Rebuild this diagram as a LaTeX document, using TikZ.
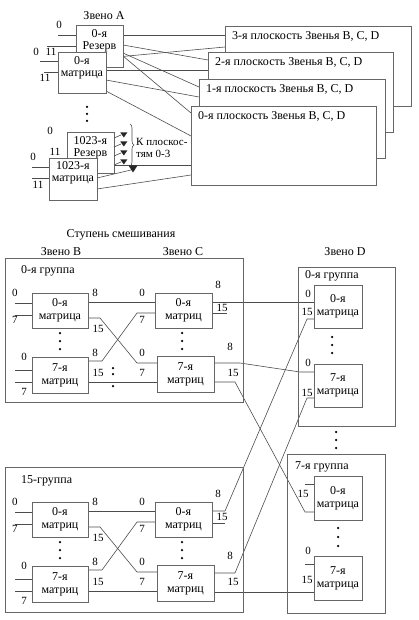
\documentclass[tikz,border=0pt]{standalone}
\usepackage{fontspec}
\setmainfont{Liberation Serif}
\usetikzlibrary{decorations.pathreplacing}
\pgfdeclarelayer{bg}
\pgfsetlayers{bg,main}
\newcounter{lblc}
\newcommand\mybox[7][]{\node[box,#1,minimum width={#4-#2},minimum height={#5-#3}] (#6) at ({(#2+#4)/2},{(#3+#5)/2}) {#7};}
\newcommand\lab[4][]{\stepcounter{lblc}\node[lab,#1] (lbl\arabic{lblc}) at (#2,#3) {#4};}
\newcommand\btx[3]{\stepcounter{lblc}\node[btxt] (bt\arabic{lblc}) at (#1,#2) {#3};}
\newcommand\dt[2]{\stepcounter{lblc}\node[dotn] (dt\arabic{lblc}) at (#1,#2) {};}
\begin{document}
\begin{tikzpicture}[x=1pt,y=-1pt,
 box/.style={draw=black!60,fill=white,line width=0.7pt,inner sep=0pt,outer sep=0pt,align=center,font=\fontsize{12}{13}\selectfont},
 btxt/.style={inner sep=0pt,align=center,font=\fontsize{12}{11.8}\selectfont},
 wire/.style={draw=black!70,line width=0.6pt},
 lab/.style={inner sep=0pt,font=\fontsize{11}{11}\selectfont},
 ttl/.style={inner sep=0pt,font=\fontsize{12}{12}\selectfont},
 dotn/.style={circle,fill=black,inner sep=0pt,minimum size=2.5pt},
 tri/.style={fill=black!85},
]
\useasboundingbox (0,0) rectangle (418,620);

% ---------------- Zveno A ----------------
\node[ttl] (tA) at (104,16) {Звено A};
\mybox{76}{25}{123}{67}{rA}{}
\btx{99.5}{41}{0-я\\Резерв}
\mybox{58}{52}{106}{93}{mA}{}
\btx{82}{68}{0-я\\матрица}
\mybox{67}{132}{114}{173}{rZ}{}
\btx{90.5}{148}{1023-я\\Резерв}
\mybox{49}{158}{97}{200}{mZ}{}
\btx{73}{173}{1023-я\\матрица}

\mybox{225}{26}{411}{106}{p3}{}
\node[ttl,anchor=west] (t3) at ([shift={(7,10)}]p3.north west) {3-я плоскость Звенья B, C, D};
\mybox{208}{52}{393}{132}{p2}{}
\node[ttl,anchor=west] (t2) at ([shift={(7,10)}]p2.north west) {2-я плоскость Звенья B, C, D};
\mybox{199}{79}{385}{158}{p1}{}
\node[ttl,anchor=west] (t1) at ([shift={(7,10)}]p1.north west) {1-я плоскость Звенья B, C, D};
\mybox{191}{106}{376}{185}{p0}{}
\node[ttl,anchor=west] (t0) at ([shift={(7,10)}]p0.north west) {0-я плоскость Звенья B, C, D};

\begin{pgfonlayer}{bg}
\draw[wire] (rA.east |- 0,35) -- (p3.west |- 0,35);
\draw[wire] (rA.east |- 0,45) -- (p2.west |- 0,60);
\draw[wire] (rA.east |- 0,53) -- (p1.west |- 0,87);
\draw[wire] (rA.east |- 0,56) -- (p0.west |- 0,113);
\draw[wire] (mA.east |- 0,58) -- (p3.west |- 0,47);
\draw[wire] (mA.east |- 0,70) -- (p2.west |- 0,70);
\draw[wire] (mA.east |- 0,80) -- (p1.west |- 0,97);
\draw[wire] (mA.east |- 0,91) -- (p0.west |- 0,136);
\draw[wire] (mZ.east |- 0,165) -- (p0.west |- 0,165);
\draw[wire] (mZ.east |- 0,189) -- (p0.west |- 0,175);
\draw[wire] (rA.west |- 0,35) -- ++(-18,0);
\draw[wire] (rA.west |- 0,46) -- ++(-29,0);
\draw[wire] (mA.west |- 0,61) -- ++(-18,0);
\draw[wire] (mA.west |- 0,72) -- ++(-14,0);
\draw[wire] (mZ.west |- 0,167) -- ++(-17,0);
\draw[wire] (mZ.west |- 0,178) -- ++(-17,0);
\end{pgfonlayer}

\lab{59}{25}{0}
\lab{36}{52}{0}
\lab{51}{52}{11}
\lab{45}{78}{11}
\lab{50}{131}{0}
\lab{55}{152}{11}
\lab{33}{157}{0}
\lab{38}{185}{11}
\dt{87}{107}\dt{87}{114}\dt{87}{121}

% arrows "K ploskostyam"
\foreach \yc in {135,144,153,162}{
  \draw[wire] (rZ.east |- 0,\yc+3) -- (121,\yc);
  \fill[tri] (120.3,\yc-2.5) -- (127.3,\yc-2.5) -- (123.8,\yc+2.5) -- cycle;
}
\draw[wire] (mZ.east |- 0,178) -- (131,170);
\fill[tri] (128.5,165.5) -- (137.5,165.5) -- (133,172.5) -- cycle;
\draw[wire,decorate,decoration={brace,amplitude=4pt}] (130,124) -- (130,166);
\lab[anchor=west]{136}{142}{К плоскос-}
\lab[anchor=west]{136}{154}{тям 0-3}

% ---------------- Mixing stage ----------------
\node[ttl] (tS) at (121,235) {Ступень смешивания};
\node[ttl] (tB) at (61,252) {Звено B};
\node[ttl] (tC) at (183,252) {Звено C};
\node[ttl] (tD) at (345,252) {Звено D};

\mybox[fill=none]{5}{258}{243}{402}{ga}{}
\mybox[fill=none]{5}{467}{243}{612}{gb}{}
\mybox[fill=none]{298}{267}{395}{426}{gd0}{}
\mybox[fill=none]{287}{454}{385}{613}{gd7}{}
\node[ttl,anchor=west] (tga) at (21,271) {0-я группа};
\node[ttl,anchor=west] (tgb) at (21,481) {15-группа};
\node[ttl,anchor=west] (tgd0) at (305,276) {0-я группа};
\node[ttl,anchor=west] (tgd7) at (295,467) {7-я группа};

\foreach \oy/\g/\txt in {0/a/матрица,209/b/матриц}{
\begin{scope}[yshift=-\oy pt]
 \mybox{32}{293}{88}{328}{B\g0}{0-я\\\txt}
 \mybox{32}{357}{88}{393}{B\g7}{7-я\\матриц}
 \mybox{155}{293}{212}{328}{C\g0}{0-я\\матриц}
 \mybox{157}{356}{214}{392}{C\g7}{7-я\\матриц}
 \begin{pgfonlayer}{bg}
 \draw[wire] (B\g0.west |- 0,303) -- ++(-17,0);
 \draw[wire] (B\g0.west |- 0,315) -- ++(-17,0);
 \draw[wire] (B\g7.west |- 0,370) -- ++(-17,0);
 \draw[wire] (B\g7.west |- 0,382) -- ++(-17,0);
 \draw[wire] (B\g0.east |- 0,302) -- (C\g0.west |- 0,302);
 \draw[wire] (B\g0.east |- 0,318) -- ++(12,0) -- (137,363) -- (C\g7.west |- 0,363);
 \draw[wire] (B\g7.east |- 0,361) -- ++(14,0) -- (137,313) -- (C\g0.west |- 0,313);
 \draw[wire] (B\g7.east |- 0,382) -- (C\g7.west |- 0,382);
 \end{pgfonlayer}
 \lab{15}{293}{0}\lab{15}{320}{7}
 \lab{24}{357}{0}\lab{24}{392}{7}
 \lab{95}{293}{8}\lab{98}{329}{15}
 \lab{95}{353}{8}\lab{98}{373}{15}
 \lab{142}{293}{0}\lab{142}{320}{7}
 \lab{142}{353}{0}\lab{142}{373}{7}
 \lab{218}{285}{8}\lab{222}{308}{15}
 \lab{230}{347}{8}\lab{233}{373}{15}
 \dt{60}{333}\dt{60}{341}\dt{60}{349}
 \dt{182}{333}\dt{182}{341}\dt{182}{349}
\end{scope}}
\dt{113}{368}\dt{113}{374}\dt{113}{386}

% Zveno D
\mybox{314}{285}{362}{328}{D00}{0-я\\матрица}
\mybox{314}{364}{362}{407}{D07}{7-я\\матрица}
\mybox{314}{476}{362}{520}{D70}{0-я\\матрица}
\mybox{314}{556}{362}{600}{D77}{7-я\\матрица}
\lab{308}{294}{0}\lab{307}{312}{15}
\lab{308}{363}{0}\lab{307}{393}{15}
\lab{303}{494}{15}
\lab{308}{551}{0}\lab{307}{580}{15}
\dt{332}{337}\dt{332}{345}\dt{332}{353}
\dt{336}{432}\dt{336}{440}\dt{336}{448}
\dt{338}{528}\dt{338}{537}\dt{338}{546}

\begin{pgfonlayer}{bg}
\draw[wire] (Ca0.east |- 0,302) -- (D00.west |- 0,302);
\draw[wire] (Ca0.east |- 0,313) -- ++(15,0);
\draw[wire] (Ca7.east |- 0,363) -- ++(26,0) -- (300,372) -- (D07.west |- 0,372);
\draw[wire] (Ca7.east |- 0,382) -- ++(21,0) -- (305,512) -- (D70.west |- 0,512);
\draw[wire] (Cb0.east |- 0,511) -- ++(13,0) -- (307,319) -- (D00.west |- 0,319);
\draw[wire] (Cb0.east |- 0,523) -- ++(13,0);
\draw[wire] (Cb7.east |- 0,573) -- ++(21,0) -- (307,398) -- (D07.west |- 0,398);
\draw[wire] (Cb7.east |- 0,592) -- (D77.west |- 0,592);
\draw[wire] (D70.west |- 0,484) -- ++(-9,0);
\draw[wire] (D77.west |- 0,564) -- ++(-9,0);
\end{pgfonlayer}
\end{tikzpicture}
\end{document}
